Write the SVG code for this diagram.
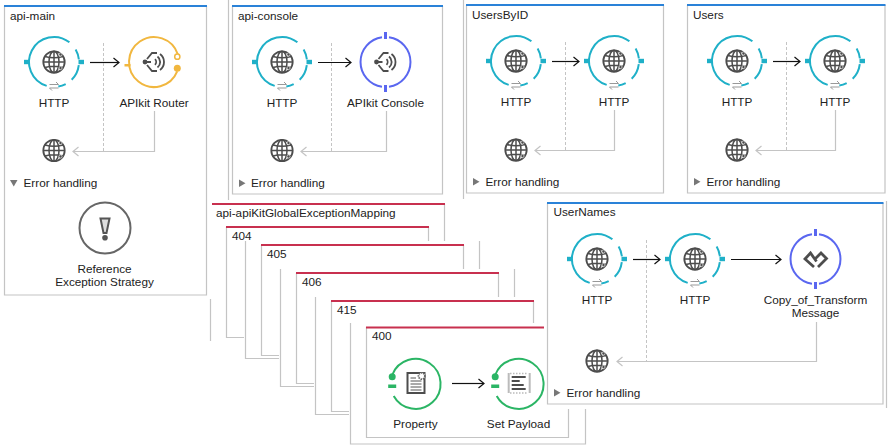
<svg xmlns="http://www.w3.org/2000/svg" width="888" height="445" viewBox="0 0 888 445">
<style>
text{font-family:"Liberation Sans",Arial,sans-serif;font-size:11.75px;fill:#222}
.m{text-anchor:middle}
.f{fill:none;stroke:#c4c4c4;stroke-width:1.2}
.b{fill:none;stroke:#2a82d8;stroke-width:2}
.r{fill:none;stroke:#c8304f;stroke-width:2}
.ar{fill:none;stroke:#111;stroke-width:1.2;marker-end:url(#ah)}
.gr{fill:none;stroke:#c4c4c4;stroke-width:1.2;marker-end:url(#gh)}
.da{fill:none;stroke:#c4c4c4;stroke-width:1;stroke-dasharray:3 2}
.ic{fill:none;stroke:#4d4d4d;stroke-width:1.8}
.tri{fill:#777}
</style>
<defs>
<marker id="ah" markerUnits="userSpaceOnUse" markerWidth="12" markerHeight="12" refX="7" refY="6" orient="auto"><path d="M1.500 1.500L7 6L1.500 10.500" fill="none" stroke="#111" stroke-width="1.200"/></marker>
<marker id="gh" markerUnits="userSpaceOnUse" markerWidth="12" markerHeight="12" refX="7" refY="6" orient="auto"><path d="M1.500 1.500L7 6L1.500 10.500" fill="none" stroke="#c4c4c4" stroke-width="1.200"/></marker>
<g id="globe" fill="none" stroke="#4d4d4d" stroke-width="1.500">
<circle r="10.700" stroke-width="1.800"/><ellipse rx="5" ry="10.700"/><path d="M0-10.700V10.700M-10.700 0H10.700M-9-5.500Q0-3 9-5.500M-9 5.500Q0 3 9 5.500"/>
<circle cx="6.500" cy="-7.500" r="1.600" fill="#4d4d4d" stroke="#fff" stroke-width=".6"/><circle cx="6.500" cy="6" r="1.600" fill="#4d4d4d" stroke="#fff" stroke-width=".6"/>
</g>
<g id="http">
<path d="M-7.300 23.900A25 25 0 1 1 15.400-19.700M21.650-12.500A25 25 0 0 1 24.860-2.600M24.800 3.050A25 25 0 0 1 17.700 17.700M11.700 22.100A25 25 0 0 1 4.300 24.600" fill="none" stroke="#1fb0c8" stroke-width="2"/>
<rect x="-30" y="-2.200" width="5.500" height="4.400" fill="#1fb0c8"/><rect x="24.500" y="-2.200" width="5.500" height="4.400" fill="#1fb0c8"/>
<use href="#globe"/>
<path d="M-4.500 22.500H4.500L2 20M4.500 26H-4.500L-2 28.500" fill="none" stroke="#999" stroke-width="1"/>
</g>
<g id="kit" class="ic">
<circle cx="-9" cy="0" r="2.400" fill="#4d4d4d" stroke="none"/>
<path d="M-9 0H-3M-7-3L-2-9H3M-7 3L-2 9H3M1-2.800A4 4 0 0 1 1 2.800M3.500-5.500A7 7 0 0 1 3.500 5.500M6-8A10 10 0 0 1 6 8"/>
</g>
<g id="blue-ring">
<path d="M3.500-24.750A25 25 0 0 1 3.500 24.750M-3.500 24.750A25 25 0 0 1-3.500-24.750" fill="none" stroke="#5a67f0" stroke-width="2"/>
<rect x="-1.500" y="-30" width="3" height="7" fill="#5a67f0"/><rect x="-1.500" y="23" width="3" height="7" fill="#5a67f0"/>
</g>
<g id="green-ring">
<path d="M-22 13A25 25 0 1 0-23.500-8" fill="none" stroke="#2bb565" stroke-width="2"/>
<circle cx="-23.500" cy="-6.300" r="3.500" fill="#2bb565"/><rect x="-27.500" y="1.500" width="8" height="3.500" fill="#2bb565"/>
</g>
</defs>

<g id="frames">
<g id="api-main"><path class="f" d="M4.500 6V295H206.500V6"/><path class="b" d="M4 6H207"/><text x="10" y="20">api-main</text></g>
<g id="api-console"><path class="f" d="M232.500 6V194H442.500V6"/><path class="b" d="M232 6H443"/><text x="238" y="20">api-console</text></g>
<g id="UsersByID"><path class="f" d="M466.500 5V193H663.500V5"/><path class="b" d="M466 5H664"/><text x="472" y="19">UsersByID</text></g>
<g id="Users"><path class="f" d="M687.500 5V193H885V5"/><path class="b" d="M687 5H885.500"/><text x="693" y="19">Users</text></g>
<g id="stubs"><path class="f" d="M228.500 0V200M463.500 0V199M210.500 299V341M886.500 201V408"/></g>
<g id="api-apiKitGlobalExceptionMapping"><path class="f" d="M444.500 204V241"/><path class="r" d="M212 204H445"/><text x="216" y="217">api-apiKitGlobalExceptionMapping</text></g>
<g id="f404"><path class="f" d="M226.500 227V337.500H244M428.500 227V241"/><path class="r" d="M226 227H429"/><text x="232" y="240">404</text></g>
<g id="f405"><path class="f" d="M245.500 241V358.500H279M261.500 245V355.500H279M463.500 245V269M479.500 241V269"/><path class="r" d="M261 245H464"/><text x="267" y="258">405</text></g>
<g id="f406"><path class="f" d="M280.500 269V386.500H314M296.500 273V383.500H314M498.500 273V297M514.500 269V297"/><path class="r" d="M296 273H499"/><text x="302" y="286">406</text></g>
<g id="f415"><path class="f" d="M315.500 297V414.500H349M331.500 301V411.500H349M533.500 301V323"/><path class="r" d="M331 301H534"/><text x="337" y="314">415</text></g>
<g id="f400"><path class="f" d="M350.500 323V444H585.500V409M366.500 327V437.500H568.500V409"/><path class="r" d="M366 327.500H544"/><text x="372" y="340">400</text></g>
<g id="UserNames"><path class="f" d="M547.500 203V404H883V203"/><path class="b" d="M547 203H883.500"/><text x="553.500" y="216">UserNames</text></g>
</g>

<g id="connectors">
<path class="ar" d="M90 62.500H119"/><path class="da" d="M103.500 43V151"/><path class="gr" d="M154.500 111V151.500H73"/>
<path class="ar" d="M318 62.500H351"/><path class="da" d="M331.500 43V151"/><path class="gr" d="M386.500 111V151.500H301"/>
<path class="ar" d="M552 61.500H579"/><path class="da" d="M565.500 42V150"/><path class="gr" d="M614.500 110V150.500H535"/>
<path class="ar" d="M773 61.500H800"/><path class="da" d="M786.500 42V150"/><path class="gr" d="M835.500 110V150.500H756"/>
<path class="ar" d="M633 259.500H660"/><path class="ar" d="M731 259.500H781"/><path class="da" d="M646.500 240V361"/><path class="gr" d="M816.500 322V361.500H617"/>
<path class="ar" d="M452 383.500H484"/>
</g>

<g id="n-main-http"><use href="#http" x="54" y="62"/><text class="m" x="54" y="107">HTTP</text></g>
<g id="n-main-router"><path d="M177.200 71.400A25 25 0 1 1 177.800 54.300" fill="none" stroke="#f1b73f" stroke-width="2"/>
<rect x="124.500" y="64" width="6" height="2.500" fill="#f1b73f"/><circle cx="177.300" cy="56.700" r="2.600" fill="#fff" stroke="#f1b73f" stroke-width="1.500"/><circle cx="177.300" cy="68.300" r="3.500" fill="#f1b73f"/>
<use href="#kit" x="154" y="62"/><text class="m" x="154" y="107">APIkit Router</text></g>
<g id="n-main-globe"><use href="#globe" x="54" y="150.500"/></g>
<g id="n-main-tri"><path class="tri" d="M10 180H17.500L13.750 186.500Z"/><text x="23.500" y="187">Error handling</text></g>
<g id="n-main-ref"><circle cx="105" cy="228" r="25.500" fill="none" stroke="#666" stroke-width="2"/><path d="M100.500 218.500H109.500L106.500 233H103.500Z" fill="#ddd" stroke="#555" stroke-width="2"/><circle cx="105" cy="237.700" r="2.800" fill="#555"/><text class="m" x="104.500" y="273">Reference</text><text class="m" x="104.500" y="286">Exception Strategy</text></g>

<g id="n-console-http"><use href="#http" x="282" y="62"/><text class="m" x="282" y="107">HTTP</text></g>
<g id="n-console-kit"><use href="#blue-ring" x="385.500" y="62"/><use href="#kit" x="385.500" y="62"/><text class="m" x="385.500" y="107">APIkit Console</text></g>
<g id="n-console-globe"><use href="#globe" x="282" y="150.500"/></g>
<g id="n-console-tri"><path class="tri" d="M239 179.500L245.500 183.250L239 187Z"/><text x="251" y="187">Error handling</text></g>

<g id="n-byid-http1"><use href="#http" x="516" y="61"/><text class="m" x="516" y="106">HTTP</text></g>
<g id="n-byid-http2"><use href="#http" x="614" y="61"/><text class="m" x="614" y="106">HTTP</text></g>
<g id="n-byid-globe"><use href="#globe" x="516" y="150"/></g>
<g id="n-byid-tri"><path class="tri" d="M473 178L479.500 181.750L473 185.500Z"/><text x="485.500" y="186">Error handling</text></g>

<g id="n-users-http1"><use href="#http" x="737" y="61"/><text class="m" x="737" y="106">HTTP</text></g>
<g id="n-users-http2"><use href="#http" x="835" y="61"/><text class="m" x="835" y="106">HTTP</text></g>
<g id="n-users-globe"><use href="#globe" x="737" y="150"/></g>
<g id="n-users-tri"><path class="tri" d="M694 178L700.500 181.750L694 185.500Z"/><text x="706.500" y="186">Error handling</text></g>

<g id="n-names-http1"><use href="#http" x="597" y="259"/><text class="m" x="597" y="304">HTTP</text></g>
<g id="n-names-http2"><use href="#http" x="695" y="259"/><text class="m" x="695" y="304">HTTP</text></g>
<g id="n-names-transform"><use href="#blue-ring" x="815.500" y="259"/>
<path d="M816.500 261.500L810.500 253L805 259L814 267M818 267L826.500 258.500L821 253L815 259" fill="none" stroke="#4d4d4d" stroke-width="2.800"/>
<text class="m" x="815.500" y="304">Copy_of_Transform</text><text class="m" x="815.500" y="317">Message</text></g>
<g id="n-names-globe"><use href="#globe" x="597" y="361"/></g>
<g id="n-names-tri"><path class="tri" d="M554 389L560.500 392.750L554 396.500Z"/><text x="566.500" y="397">Error handling</text></g>

<g id="n-property"><use href="#green-ring" x="415.700" y="383"/>
<rect x="407.500" y="373" width="17" height="20" fill="#fff" stroke="#4d4d4d" stroke-width="2"/>
<path d="M410.500 378H416M410.500 381H421.500M410.500 384H421.500M410.500 387H421.500M410.500 390H421.500" stroke="#555" stroke-width="1"/>
<circle cx="421.700" cy="376" r="3.200" fill="#fff" stroke="#666" stroke-width="1.800" stroke-dasharray="1.500 .8"/>
<text class="m" x="415.500" y="428">Property</text></g>
<g id="n-setpayload"><use href="#green-ring" x="518.700" y="383"/>
<path d="M508.700 373V393M529.700 373V393" stroke="#bbb" stroke-width="2"/><path d="M510 373.500H528M510 393H528" stroke="#bbb" stroke-width="1.500" stroke-dasharray="1.500 1.500"/>
<path d="M511.700 377H525.700M511.700 381H519.700M511.700 385H523.700M511.700 389H525.700" stroke="#4d4d4d" stroke-width="2"/>
<text class="m" x="518.500" y="428">Set Payload</text></g>
</svg>
